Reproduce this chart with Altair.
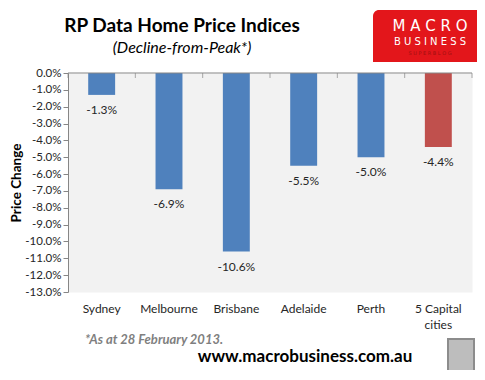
import altair as alt
import pandas as pd

cities = ["Sydney", "Melbourne", "Brisbane", "Adelaide", "Perth", "5 Capital cities"]
values = [-1.3, -6.9, -10.6, -5.5, -5.0, -4.4]
colors = ["#4f81bd", "#4f81bd", "#4f81bd", "#4f81bd", "#4f81bd", "#c0504d"]
y_ticks = [0, -1, -2, -3, -4, -5, -6, -7, -8, -9, -10, -11, -12, -13]

df = pd.DataFrame({"city": cities, "value": values, "color": colors})
one = pd.DataFrame({"a": [0]})

FONT = "Lato"
pct_expr = "replace(format(datum.value, '.1f'), '\u2212', '-') + '%'"

xscale = alt.Scale(domain=cities, paddingInner=0, paddingOuter=0)
yscale = alt.Scale(domain=[-13, 0], nice=False, zero=False)

xaxis = alt.Axis(orient="bottom", labelAngle=0, domain=False, ticks=False,
                 labelPadding=11, labelFontSize=12, labelFont=FONT,
                 labelColor="#262626", labelLineHeight=16,
                 labelExpr="datum.label == '5 Capital cities' ? ['5 Capital', 'cities'] : datum.label")
yaxis = alt.Axis(values=y_ticks, tickCount=14, labelExpr=pct_expr, grid=False,
                 labelOverlap=False, labelFlush=False,
                 domainColor="#868686", tickColor="#868686", tickSize=5,
                 labelFont=FONT, labelFontSize=11.5, labelColor="#262626",
                 labelPadding=2, title="Price Change", titleFont=FONT,
                 titleFontSize=13.5, titleFontWeight="bold", titleColor="#000000",
                 titlePadding=1)

X = alt.X("city:N", sort=cities, scale=xscale, title=None, axis=xaxis)
Y = alt.Y("value:Q", scale=yscale, axis=yaxis)

bars = alt.Chart(df).mark_bar(width=alt.RelativeBandSize(0.4)).encode(
    x=X, y=Y, color=alt.Color("color:N", scale=None),
)

# horizontal category axis line at 0%, with ticks at the category boundaries
zero = alt.Chart(one).mark_rect(color="#868686").encode(
    x=alt.value(0), x2=alt.value(404), y=alt.value(-0.5), y2=alt.value(0.5))
bticks = alt.Chart(df).mark_tick(color="#868686", orient="vertical", size=5, thickness=1).encode(
    x=alt.X("city:N", sort=cities, scale=xscale, bandPosition=0, title=None, axis=xaxis),
    y=alt.value(2.5))
lasttick = alt.Chart(one).mark_tick(color="#868686", orient="vertical", size=5, thickness=1).encode(
    x=alt.value(404), y=alt.value(2.5))

labels = alt.Chart(df).transform_calculate(
    label="replace(format(datum.value, '.1f'), '\u2212', '-') + '%'"
).mark_text(baseline="middle", dy=15, fontSize=12, font=FONT, color="#262626").encode(
    x=X, y=Y, text="label:N",
)

def txt(s, x, y, size, weight="normal", style="normal", color="#000000", align="center", font=FONT):
    return alt.Chart(one).mark_text(
        text=s, fontSize=size, fontWeight=weight, fontStyle=style, color=color,
        align=align, baseline="middle", font=font
    ).encode(x=alt.value(x), y=alt.value(y))

title = txt("RP Data Home Price Indices", 114, -47, 19, weight="bold")
subtitle = txt("(Decline-from-Peak*)", 114, -25, 16, style="italic")
foot = txt("*As at 28  February 2013.", 17, 267, 13, weight="bold", style="italic",
           color="#7f7f7f", align="left")
url = txt("www.macrobusiness.com.au", 237, 284, 17, weight="bold")

logo = alt.Chart(one).mark_rect(color="#e3161b", cornerRadiusTopLeft=6).encode(
    x=alt.value(305), x2=alt.value(420), y=alt.value(-63), y2=alt.value(-11))
logo1 = txt("M A C R O", 362, -47, 15, color="#ffffff", font="DejaVu Sans")
logo2 = txt("B U S I N E S S", 362, -31, 10, color="#ffffff", font="DejaVu Sans")
logo3 = txt("S U P E R B L O G", 362, -20, 5, color="#a01010", font="DejaVu Sans")

wolf = alt.Chart(one).mark_rect(color="#bdbdbd", stroke="#8c8c8c", strokeWidth=2).encode(
    x=alt.value(380), x2=alt.value(406), y=alt.value(266), y2=alt.value(299))

chart = alt.layer(
    bars, zero, bticks, lasttick, labels, title, subtitle, foot, url,
    logo, logo1, logo2, logo3, wolf
).properties(
    width=404, height=219,
    autosize=alt.AutoSizeParams(type="none"),
    padding={"left": 60, "top": 65, "right": 5, "bottom": 78},
    background="#ffffff",
).configure_view(fill="#f2f2f2", stroke="transparent")

chart.save("out.html", embed_options={"renderer": "svg", "actions": False})
